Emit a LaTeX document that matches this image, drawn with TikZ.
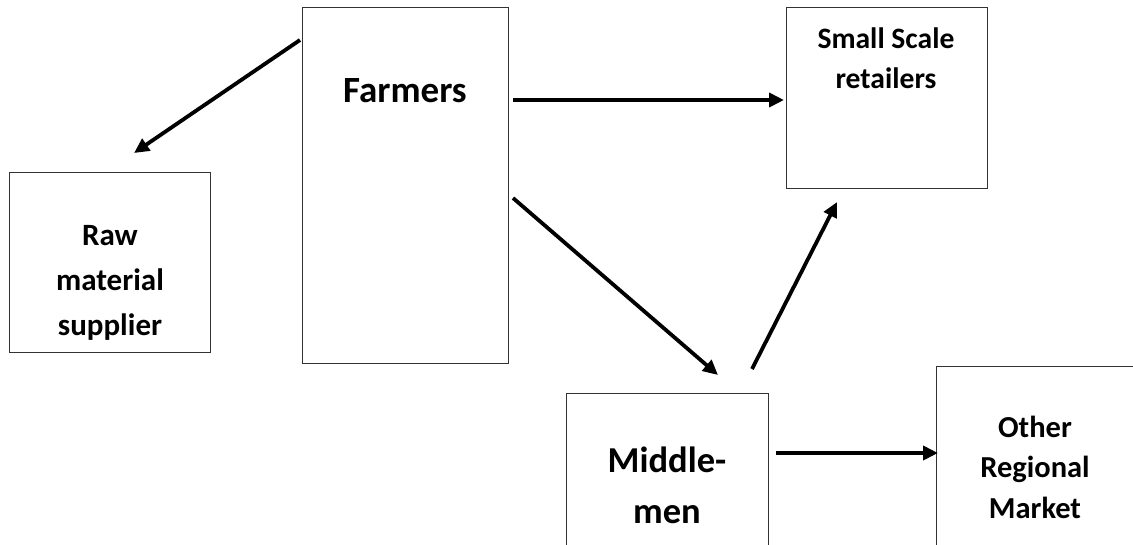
\documentclass[tikz,border=0pt]{standalone}
\usepackage{fontspec}
\setmainfont{Carlito}
\usetikzlibrary{arrows.meta}
\begin{document}
\begin{tikzpicture}[x=1pt,y=-1pt,
  box/.style={draw=black!80,line width=1.1pt,minimum width=#1,inner sep=0pt,anchor=north west},
  lbl/.style={align=center,anchor=base,inner sep=0pt},
  flow/.style={line width=3.8pt,-{Triangle[length=15pt,width=14pt]}}]
\useasboundingbox (0,0) rectangle (1133,544);
% boxes
\node[box=206pt,minimum height=356pt] (farm) at (302,7) {};
\node[box=201pt,minimum height=180pt] (raw) at (9,172) {};
\node[box=201pt,minimum height=181pt] (small) at (786,7) {};
\node[box=202pt,minimum height=160pt] (mid) at (566,393) {};
\node[box=200pt,minimum height=190pt] (other) at (936,366) {};
% labels (anchor = baseline of last line)
\node[lbl,font=\bfseries\fontsize{37}{44}\selectfont] (farmt) at (405,102) {Farmers};
\node[lbl,font=\bfseries\fontsize{29.6}{40}\selectfont] (smallt) at (886,88) {Small Scale\\retailers};
\node[lbl,font=\bfseries\fontsize{31}{45}\selectfont] (rawt) at (110,335) {Raw\\material\\supplier};
\node[lbl,font=\bfseries\fontsize{36.5}{51}\selectfont] (midt) at (667,523) {Middle-\\men};
\node[lbl,font=\bfseries\fontsize{30.5}{40.5}\selectfont] (othert) at (1035,518) {Other\\Regional\\Market};
% arrow ends
\coordinate (a1s) at (300,40);  \coordinate (a1e) at (134,153);
\coordinate (a2s) at (513,100); \coordinate (a2e) at (784,100);
\coordinate (a3s) at (513,198); \coordinate (a3e) at (718,375);
\coordinate (a4s) at (752,369); \coordinate (a4e) at (837,202);
\coordinate (a5s) at (776,453); \coordinate (a5e) at (938,453);
\draw[flow] (a1s) -- (a1e);
\draw[flow] (a2s) -- (a2e);
\draw[flow] (a3s) -- (a3e);
\draw[flow] (a4s) -- (a4e);
\draw[flow] (a5s) -- (a5e);
\end{tikzpicture}
\end{document}
